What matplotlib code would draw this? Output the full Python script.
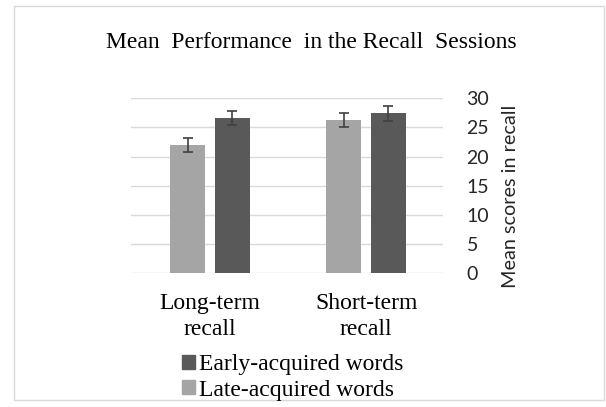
import matplotlib
matplotlib.use("Agg")
import matplotlib.pyplot as plt
from matplotlib.patches import Rectangle, Patch
import numpy as np

categories = ["Long-term\nrecall", "Short-term\nrecall"]
late_vals = [22.0, 26.2]
late_err = [1.2, 1.2]
early_vals = [26.7, 27.4]
early_err = [1.2, 1.3]
yticks = [0, 5, 10, 15, 20, 25, 30]

serif = ["Liberation Serif", "DejaVu Serif"]
sans = ["Lato", "DejaVu Sans"]

fig = plt.figure(figsize=(6.06, 4.07), dpi=100)
fig.patches.append(Rectangle((14/606, 1-400/407), 590/606, 394/407, transform=fig.transFigure,
                             fill=False, edgecolor="#d9d9d9", lw=1))

ax = fig.add_axes([131/606, 1-273.3/407, 312/606, 175/407])
x = np.arange(len(categories))
off = 0.143
w = 0.225
ax.bar(x - off, late_vals, w, color="#a5a5a5", zorder=3)
ax.bar(x + off, early_vals, w, color="#595959", zorder=3)
ax.errorbar(x - off, late_vals, yerr=late_err, fmt="none", ecolor="#404040", elinewidth=1.2,
            capsize=3.6, capthick=1.2, zorder=4)
ax.errorbar(x + off, early_vals, yerr=early_err, fmt="none", ecolor="#404040", elinewidth=1.2,
            capsize=3.6, capthick=1.2, zorder=4)

ax.set_xlim(-0.507, 1.493)
ax.set_ylim(0, 30)
ax.set_yticks(yticks)
ax.yaxis.tick_right()
ax.tick_params(axis="y", length=0, pad=17, labelsize=14, labelcolor="#262626")
for lab in ax.get_yticklabels():
    lab.set_family(sans)
ax.set_xticks(x)
ax.set_xticklabels(categories, fontsize=17, family=serif, linespacing=1.35)
ax.tick_params(axis="x", length=0, pad=14)
ax.grid(axis="y", color="#d9d9d9", lw=1, zorder=0)
for s in ax.spines.values():
    s.set_visible(False)

fig.text(311/606, 1-43/407, "Mean  Performance  in the Recall  Sessions", ha="center", va="center",
         fontsize=17, family=serif)
fig.text(510/606, 1-196/407, "Mean scores in recall", rotation=90, ha="center", va="center",
         fontsize=14.3, family=sans, color="#262626")

handles = [Patch(color="#595959", label="Early-acquired words"),
           Patch(color="#a5a5a5", label="Late-acquired words")]
fig.legend(handles=handles, loc="upper left", bbox_to_anchor=(182/606, 1-354/407), frameon=False,
           prop={"family": serif, "size": 17}, handlelength=0.55, handleheight=0.55,
           handletextpad=0.15, labelspacing=0.2, borderpad=0, borderaxespad=0)

fig.savefig("out.png", dpi=100)
